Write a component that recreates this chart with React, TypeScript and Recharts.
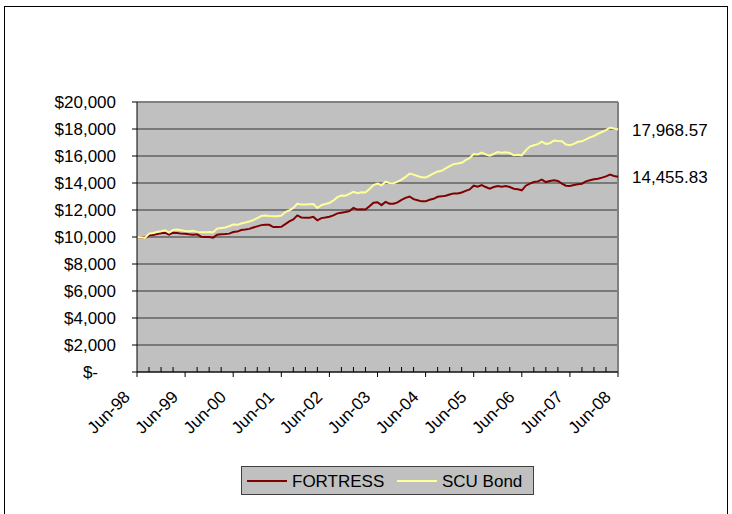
import React from 'react';
import {
  LineChart,
  Line,
  XAxis,
  YAxis,
  CartesianGrid,
  ReferenceLine,
  Legend,
  LabelList,
} from 'recharts';

const MONTH_NAMES = ['Jan', 'Feb', 'Mar', 'Apr', 'May', 'Jun', 'Jul', 'Aug', 'Sep', 'Oct', 'Nov', 'Dec'];
const START_MONTH = 5; // June
const START_YEAR = 1998;

const fortress = [
  10000, 9980, 9930, 10120, 10150, 10220, 10270, 10320, 10170, 10320,
  10300, 10250, 10240, 10200, 10170, 10200, 10020, 10000, 10000, 9950,
  10170, 10200, 10220, 10250, 10370, 10400, 10520, 10550, 10600, 10700,
  10790, 10880, 10910, 10900, 10740, 10740, 10760, 10950, 11160, 11300,
  11600, 11450, 11420, 11430, 11490, 11240, 11400, 11440, 11500, 11600,
  11750, 11800, 11850, 11925, 12150, 12030, 12050, 12030, 12270, 12540,
  12570, 12360, 12600, 12470, 12470, 12560, 12750, 12900, 13000, 12800,
  12720, 12640, 12640, 12760, 12830, 12980, 13010, 13060, 13150, 13230,
  13230, 13300, 13420, 13520, 13800, 13720, 13850, 13700, 13580, 13700,
  13780, 13730, 13780, 13700, 13580, 13530, 13460, 13800, 13950, 14070,
  14120, 14250, 14070, 14150, 14200, 14150, 13950, 13800, 13780, 13850,
  13900, 13950, 14120, 14200, 14270, 14320, 14400, 14490, 14620, 14520,
  14455.83,
];

const scuBond = [
  10000, 9980, 9930, 10250, 10300, 10370, 10420, 10500, 10330, 10520,
  10550, 10500, 10450, 10420, 10470, 10380, 10350, 10350, 10370, 10350,
  10620, 10660, 10700, 10800, 10920, 10900, 11000, 11070, 11150, 11250,
  11400, 11550, 11600, 11560, 11530, 11530, 11580, 11850, 11975, 12150,
  12470, 12400, 12400, 12430, 12450, 12150, 12350, 12450, 12520, 12700,
  12950, 13070, 13050, 13200, 13350, 13250, 13320, 13300, 13550, 13850,
  13950, 13830, 14100, 14000, 13980, 14100, 14250, 14450, 14700, 14620,
  14520, 14420, 14400, 14550, 14720, 14850, 14900, 15080, 15250, 15400,
  15440, 15500, 15700, 15850, 16150, 16120, 16250, 16120, 16020, 16150,
  16300, 16240, 16280, 16220, 16050, 16100, 16050, 16420, 16700, 16800,
  16880, 17060, 16900, 16950, 17150, 17110, 17090, 16850, 16800, 16900,
  17050, 17090, 17230, 17380, 17480, 17650, 17780, 17920, 18100, 18030,
  17968.57,
];

const yTicks = [0, 2000, 4000, 6000, 8000, 10000, 12000, 14000, 16000, 18000, 20000];

const monthLabels = fortress.map((_, i) => {
  const m = START_MONTH + i;
  const yr = (START_YEAR + Math.floor(m / 12)) % 100;
  return `${MONTH_NAMES[m % 12]}-${String(yr).padStart(2, '0')}`;
});

const data = monthLabels.map((label, i) => ({
  label,
  fortress: fortress[i],
  scu: scuBond[i],
}));

const FONT = '"Liberation Sans", Arial, sans-serif';
const RED = '#800000';
const YELLOW = '#FFFF99';

const fmtMoney = (v: number) => (v === 0 ? '$-' : '$' + v.toLocaleString('en-US'));

const YTick = (props: any) => {
  const { x, y, payload } = props;
  const isZero = payload.value === 0;
  return (
    <text
      x={isZero ? x - 18 : x}
      y={y}
      dy="0.36em"
      textAnchor="end"
      fontFamily={FONT}
      fontSize={17}
      fill="#000"
    >
      {fmtMoney(payload.value)}
    </text>
  );
};

const XTick = (props: any) => {
  const { x, y, payload, index } = props;
  const i = typeof index === 'number' ? index : monthLabels.indexOf(payload.value);
  if (i % 12 === 0) {
    const ax = x - 6;
    const ay = y + 26;
    return (
      <g>
        <line x1={x} y1={y} x2={x} y2={y + 5} stroke="#000" strokeWidth={1} />
        <text
          x={ax}
          y={ay}
          textAnchor="end"
          transform={`rotate(-45 ${ax} ${ay})`}
          fontFamily={FONT}
          fontSize={17}
          fill="#000"
        >
          {payload.value}
        </text>
      </g>
    );
  }
  if (i % 3 === 0) {
    return <line x1={x} y1={y} x2={x} y2={y - 5} stroke="#000" strokeWidth={1} />;
  }
  return <g />;
};

const makeEndLabel = (text: string) => (props: any) => {
  const { x, y, index } = props;
  if (index !== data.length - 1) return null;
  return (
    <text
      x={x + 14}
      y={y}
      dy="0.36em"
      textAnchor="start"
      fontFamily={FONT}
      fontSize={17}
      fill="#000"
    >
      {text}
    </text>
  );
};

const LegendBox = () => (
  <svg width={294} height={30} style={{ display: 'block' }}>
    <rect x={0.5} y={0.5} width={292} height={28} fill="#C0C0C0" stroke="#404040" strokeWidth={1} />
    <line x1={6} y1={15} x2={46} y2={15} stroke={RED} strokeWidth={2} />
    <text x={51} y={15} dy="0.36em" fontFamily={FONT} fontSize={17} fill="#000">
      FORTRESS
    </text>
    <line x1={156} y1={15} x2={196} y2={15} stroke={YELLOW} strokeWidth={2} />
    <text x={201} y={15} dy="0.36em" fontFamily={FONT} fontSize={17} fill="#000">
      SCU Bond
    </text>
  </svg>
);

export default function App() {
  return (
    <div
      style={{
        position: 'absolute',
        left: 0,
        top: 0,
        width: 732,
        height: 514,
        overflow: 'hidden',
        background: '#fff',
      }}
    >
      <div
        style={{
          position: 'absolute',
          left: 4,
          top: 6,
          width: 722,
          height: 540,
          border: '1.5px solid #000',
        }}
      />
      <div style={{ position: 'absolute', left: 0, top: 0 }}>
        <LineChart
          width={732}
          height={514}
          data={data}
          margin={{ top: 102, right: 114, bottom: 82, left: 0 }}
        >
          <CartesianGrid
            horizontal={true}
            vertical={false}
            fill="#C0C0C0"
            stroke="#333"
            strokeWidth={1}
            horizontalValues={yTicks}
          />
          <XAxis
            dataKey="label"
            type="category"
            interval={0}
            height={60}
            tickSize={0}
            tickMargin={0}
            tickLine={false}
            axisLine={{ stroke: '#000', strokeWidth: 1 }}
            tick={<XTick />}
          />
          <YAxis
            type="number"
            domain={[0, 20000]}
            ticks={yTicks}
            width={137}
            tickSize={5}
            tickMargin={16}
            tickLine={{ stroke: '#000' }}
            axisLine={{ stroke: '#000', strokeWidth: 1 }}
            tick={<YTick />}
            interval={0}
          />
          <ReferenceLine y={20000} stroke="#808080" strokeWidth={2} />
          <ReferenceLine x={monthLabels[monthLabels.length - 1]} stroke="#808080" strokeWidth={2} />
          <Line
            type="linear"
            dataKey="fortress"
            name="FORTRESS"
            stroke={RED}
            strokeWidth={2}
            dot={false}
            activeDot={false}
            isAnimationActive={false}
          >
            <LabelList dataKey="fortress" content={makeEndLabel('14,455.83')} />
          </Line>
          <Line
            type="linear"
            dataKey="scu"
            name="SCU Bond"
            stroke={YELLOW}
            strokeWidth={2}
            dot={false}
            activeDot={false}
            isAnimationActive={false}
          >
            <LabelList dataKey="scu" content={makeEndLabel('17,968.57')} />
          </Line>
          <Legend
            layout="horizontal"
            verticalAlign="middle"
            align="center"
            content={<LegendBox />}
            wrapperStyle={{ position: 'absolute', top: 466, left: 241, width: 294, height: 30 }}
          />
        </LineChart>
      </div>
    </div>
  );
}
